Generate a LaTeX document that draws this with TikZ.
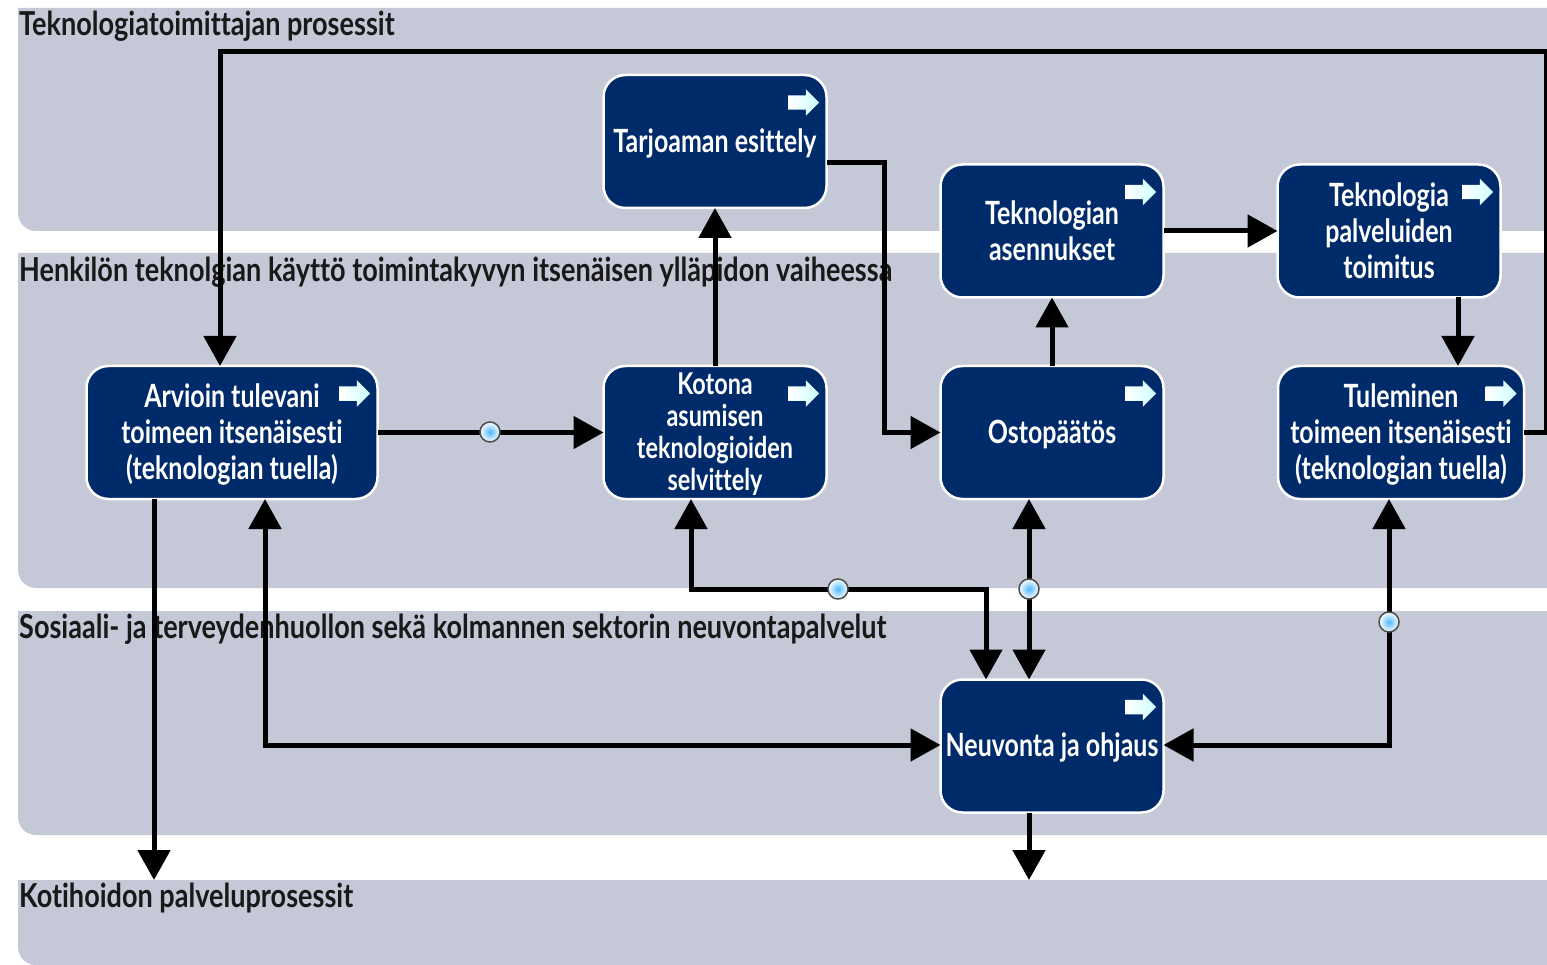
\documentclass[tikz,border=0pt]{standalone}
\usepackage{fontspec}
\setmainfont[FakeStretch=0.82,Ligatures=NoCommon]{Lato}
\newfontfamily\boxfont[FakeStretch=0.78,Ligatures=NoCommon]{Lato}
\usetikzlibrary{positioning,arrows.meta,shapes.arrows,shadings}

\definecolor{bandgray}{HTML}{C5C8D6}
\definecolor{boxnavy}{HTML}{002B6B}

\newcommand{\lowtext}[1]{\raisebox{-3.5pt}[\height][\depth]{\begin{tabular}{@{}c@{}}#1\end{tabular}}}

\tikzset{
  band/.style={fill=bandgray},
  bandtitle/.style={anchor=base west, inner sep=0pt, font=\fontsize{33}{36}\selectfont\bfseries, text=black!90},
  process/.style={draw=white, line width=2.5pt, fill=boxnavy, rounded corners=22pt, outer sep=0pt,
    text=white, align=center, font=\boxfont\fontsize{32}{36}\selectfont\bfseries, inner sep=0pt,
    minimum width=223pt, minimum height=133pt},
  goicon/.style={single arrow, minimum height=31pt, inner sep=7pt, single arrow head extend=6pt,
    single arrow head indent=0pt, shape border rotate=0, outer sep=0pt,
    left color=white, right color=cyan!20},
  flow/.style={line width=5pt, -{Triangle[length=30pt,width=32pt]}},
  biflow/.style={flow, {Triangle[length=30pt,width=32pt]}-{Triangle[length=30pt,width=32pt]}},
  infomark/.style={circle, draw=black!70, line width=1.5pt, minimum size=20pt, inner sep=0pt,
    inner color=blue!40!cyan!70!white, outer color=white}
}

\begin{document}
\begin{tikzpicture}[x=1pt,y=-1pt]

  \clip (0,0) rectangle (1547,965);

  % Bands
  \fill[band] (1547,8) -- (18,8) [rounded corners=18pt] -- (18,231) [sharp corners] -- (1547,231) -- cycle;
  \fill[band] (1547,253) -- (18,253) [rounded corners=18pt] -- (18,588) [sharp corners] -- (1547,588) -- cycle;
  \fill[band] (1547,611) -- (18,611) [rounded corners=18pt] -- (18,835) [sharp corners] -- (1547,835) -- cycle;
  \fill[band] (1547,880) -- (18,880) [rounded corners=18pt] -- (18,965) [sharp corners] -- (1547,965) -- cycle;

  \node[bandtitle] (t1) at (19,36)  {Teknologiatoimittajan prosessit};
  \node[bandtitle] (t2) at (19,282) {Henkilön teknolgian käyttö toimintakyvyn itsenäisen ylläpidon vaiheessa};
  \node[bandtitle] (t3) at (19,638) {Sosiaali- ja terveydenhuollon sekä kolmannen sektorin neuvontapalvelut};
  \node[bandtitle] (t4) at (19,907) {Kotihoidon palveluprosessit};

  % Define nodes
  \node[process]                     (tarjoama)  at (715,141.5) {\lowtext{Tarjoaman esittely}};
  \node[process]                     (asennus)   at (1052,231)  {Teknologian\\asennukset};
  \node[process]                     (toimitus)  at (1389,231)  {Teknologia\\palveluiden\\toimitus};
  \node[process, minimum width=291pt] (arvioin)  at (232,432.5) {\lowtext{Arvioin tulevani\\toimeen itsenäisesti\\(teknologian tuella)}};
  \node[process, font=\boxfont\fontsize{30}{32}\selectfont\bfseries] (kotona) at (715,432.5) {\lowtext{Kotona\\asumisen\\teknologioiden\\selvittely}};
  \node[process]                     (osto)      at (1052,432.5) {\lowtext{Ostopäätös}};
  \node[process, minimum width=246pt] (tuleminen) at (1401,432.5) {\lowtext{Tuleminen\\toimeen itsenäisesti\\(teknologian tuella)}};
  \node[process]                     (neuvonta)  at (1052,746)  {\lowtext{Neuvonta ja ohjaus}};

  % Arrow icons
  \foreach \boxname in {tarjoama,asennus,toimitus,arvioin,kotona,osto,tuleminen,neuvonta}
    \node[goicon, below left=18pt and 17pt of \boxname.north east] (\boxname go) {};

  % Helper coordinates
  \coordinate (kotiout)  at (154,880);
  \coordinate (neuvout)  at (1029,880);
  \coordinate (kulmaA)   at (1546,52);
  \coordinate (kulmaB)   at (220,52);
  \coordinate (tarjoutA) at (884,163);
  \coordinate (arvioutA) at (265,745);
  \coordinate (kotoutA)  at (691,589);
  \coordinate (kotoutB)  at (986,589);
  \coordinate (tuleoutA) at (1389,745);
  \coordinate (toimoutA) at (1458,297);

  % Connect the nodes
  \draw[flow] (tuleminen.east) -- (tuleminen.east -| kulmaA) -- (kulmaA) -- (kulmaB) -- (arvioin.north -| kulmaB);
  \draw[flow] (arvioin.east) -- (kotona.west);
  \draw[flow] (kotona.north) -- (tarjoama.south);
  \draw[flow] (tarjoutA -| tarjoama.east) -- (tarjoutA) -- (osto.west -| tarjoutA) -- (osto.west);
  \draw[flow] (osto.north) -- (asennus.south);
  \draw[flow] (asennus.east) -- (toimitus.west);
  \draw[flow] (toimoutA) -- (tuleminen.north -| toimoutA);
  \draw[flow] (arvioin.south -| kotiout) -- (kotiout);
  \draw[biflow] (arvioin.south -| arvioutA) -- (arvioutA) -- (neuvonta.west |- arvioutA);
  \draw[biflow] (kotona.south -| kotoutA) -- (kotoutA) -- (kotoutB) -- (neuvonta.north -| kotoutB);
  \draw[biflow] (osto.south -| neuvout) -- (neuvonta.north -| neuvout);
  \draw[biflow] (tuleminen.south -| tuleoutA) -- (tuleoutA) -- (neuvonta.east |- tuleoutA);
  \draw[flow] (neuvonta.south -| neuvout) -- (neuvout);

  % Info marks
  \node[infomark] (info1) at (490,432) {};
  \node[infomark] (info2) at (838,589) {};
  \node[infomark] (info3) at (1029,589) {};
  \node[infomark] (info4) at (1389,622) {};

\end{tikzpicture}
\end{document}
